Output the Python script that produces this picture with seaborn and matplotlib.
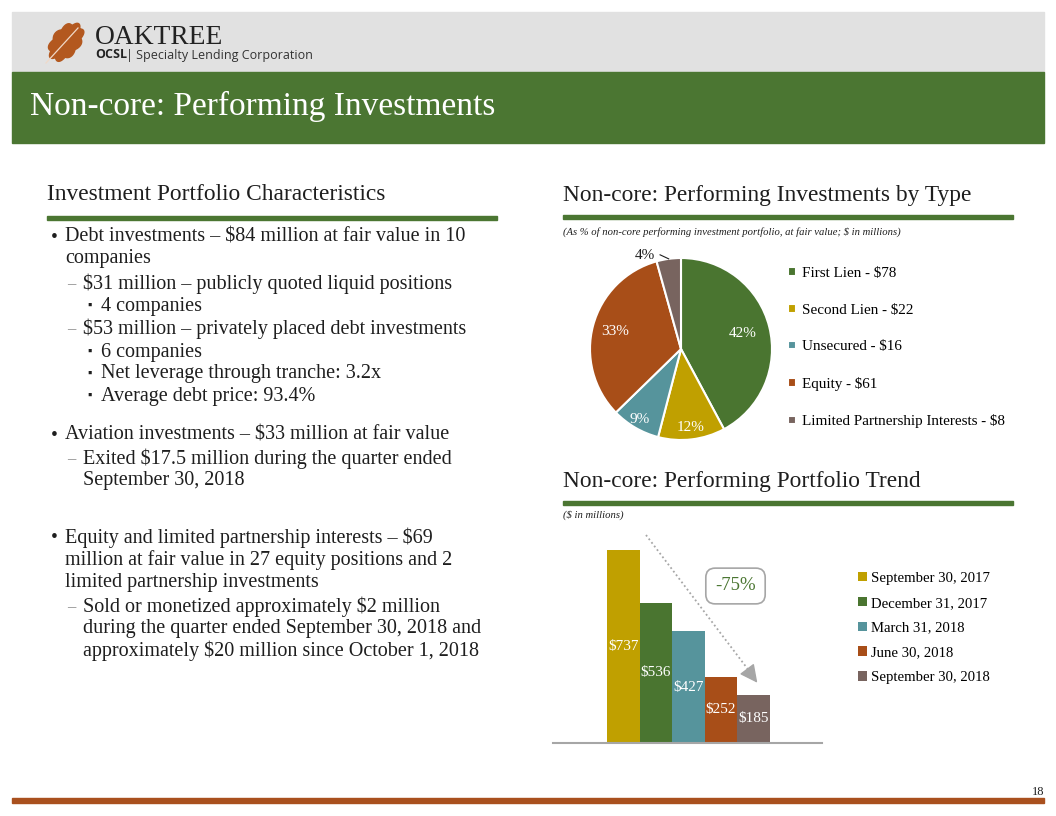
import numpy as np
import pandas as pd
import matplotlib
matplotlib.use("Agg")
import matplotlib.pyplot as plt
from matplotlib.patches import Rectangle, Polygon
from matplotlib.lines import Line2D
import seaborn as sns

# pie: non-core performing investments by type ($ in millions)
pie_types = ["First Lien", "Second Lien", "Unsecured", "Equity", "Limited Partnership Interests"]
pie_values = [78, 22, 16, 61, 8]
pie_colors = ["#4A7530", "#C0A000", "#56949C", "#A84E18", "#78645F"]

# bars: performing portfolio trend ($ in millions)
periods = ["September 30, 2017", "December 31, 2017", "March 31, 2018",
           "June 30, 2018", "September 30, 2018"]
portfolio = [737, 536, 427, 252, 185]
bar_colors = ["#C0A000", "#4A7530", "#56949C", "#A84E18", "#78645F"]
change_label = "-75%"

# left column text: (y pixel, level, starts with marker, text)
bullets = [
    (237, 0, True, "Debt investments – $84 million at fair value in 10"),
    (259, 0, False, "companies"),
    (284, 1, True, "$31 million – publicly quoted liquid positions"),
    (306, 2, True, "4 companies"),
    (329, 1, True, "$53 million – privately placed debt investments"),
    (352, 2, True, "6 companies"),
    (374, 2, True, "Net leverage through tranche: 3.2x"),
    (396, 2, True, "Average debt price: 93.4%"),
    (435, 0, True, "Aviation investments – $33 million at fair value"),
    (459, 1, True, "Exited $17.5 million during the quarter ended"),
    (481, 1, False, "September 30, 2018"),
    (538, 0, True, "Equity and limited partnership interests – $69"),
    (560, 0, False, "million at fair value in 27 equity positions and 2"),
    (582, 0, False, "limited partnership investments"),
    (607, 1, True, "Sold or monetized approximately $2 million"),
    (629, 1, False, "during the quarter ended September 30, 2018 and"),
    (651, 1, False, "approximately $20 million since October 1, 2018"),
]

GREEN = "#4B7632"
ORANGE = "#A9501E"
TEXT = "#1E1E1E"

plt.rcParams["font.family"] = ["Liberation Serif", "DejaVu Sans"]

W, H = 1056, 816
fig = plt.figure(figsize=(W / 100, H / 100), dpi=100)


def fx(x):
    return x / W


def fy(y):
    return 1 - y / H


def band(x0, y0, x1, y1, color):
    fig.patches.append(Rectangle((fx(x0), fy(y1)), (x1 - x0) / W, (y1 - y0) / H,
                                 transform=fig.transFigure, color=color, zorder=0))


# header
band(12, 12, 1044, 72, "#E1E1E1")
band(12, 72, 1044, 143, GREEN)
fig.text(fx(30), fy(106), "Non-core: Performing Investments", color="white",
         fontsize=24, va="center")

# logo leaf (lobed oak-like outline)
t = np.linspace(0, 2 * np.pi, 300)
r = 1 + 0.18 * np.abs(np.sin(4.5 * t))
lx = 0.62 * r * np.cos(t)
ly = r * np.sin(t)
rot = np.deg2rad(-40)
px = 66 + 19 * (lx * np.cos(rot) - ly * np.sin(rot))
py = 42 - 19 * (lx * np.sin(rot) + ly * np.cos(rot))
fig.patches.append(Polygon(np.column_stack([fx(px), fy(py)]), closed=True,
                           transform=fig.transFigure, color="#B3581F", zorder=1))
fig.add_artist(Line2D([fx(46), fx(78)], [fy(63), fy(28)], color="#F0D9C8", lw=0.9,
                      transform=fig.transFigure))
fig.text(fx(95), fy(37), "OAKTREE", fontsize=19.8, color="#222222", va="center")
fig.text(fx(95), fy(55), "OCSL", fontsize=9, family="Open Sans", weight="bold",
         color="#222222", va="center")
fig.text(fx(126), fy(55), "| Specialty Lending Corporation", fontsize=9,
         family="Open Sans", color="#333333", va="center")

# section headers
for x0, y, label in [(47, 195, "Investment Portfolio Characteristics"),
                     (563, 196, "Non-core: Performing Investments by Type"),
                     (563, 481, "Non-core: Performing Portfolio Trend")]:
    fig.text(fx(x0), fy(y), label, fontsize=16.8, color=TEXT, va="center")
band(47, 216, 497, 220, GREEN)
band(563, 215, 1013, 219, GREEN)
band(563, 501, 1013, 505, GREEN)

fig.text(fx(563), fy(232), "(As % of non-core performing investment portfolio, at fair value; $ in millions)",
         fontsize=7.7, style="italic", color=TEXT, va="center")
fig.text(fx(563), fy(515), "($ in millions)", fontsize=7.7, style="italic",
         color=TEXT, va="center")

# bullet text
marker_x = {0: 51, 1: 67, 2: 87}
text_x = {0: 65, 1: 83, 2: 101}
markers = {0: ("•", 14, TEXT), 1: ("–", 12, "#888888"), 2: ("▪", 9, TEXT)}
for y, level, has_marker, label in bullets:
    if has_marker:
        m, size, col = markers[level]
        fig.text(fx(marker_x[level]), fy(y), m, fontsize=size, color=col, va="center")
    fig.text(fx(text_x[level]), fy(y), label, fontsize=14.5, color=TEXT, va="center")

# pie chart
ax_pie = fig.add_axes([fx(590), fy(440), 182 / W, 182 / H])
wedges, _, autotexts = ax_pie.pie(
    pie_values, colors=pie_colors, startangle=90, counterclock=False,
    autopct=lambda p: f"{p:.0f}%", pctdistance=0.7,
    wedgeprops=dict(edgecolor="white", linewidth=1.5),
    textprops=dict(color="white", fontsize=11))
ax_pie.set_xlim(-1, 1)
ax_pie.set_ylim(-1, 1)
label_r = [0.7, 0.87, 0.9, 0.75]
for w, txt, rr in zip(wedges, autotexts, label_r):
    a = np.deg2rad((w.theta1 + w.theta2) / 2)
    txt.set_position((rr * np.cos(a), rr * np.sin(a)))
# small slice label outside with leader line
w = wedges[-1]
a = np.deg2rad((w.theta1 + w.theta2) / 2)
autotexts[-1].set_position((-0.40, 1.03))
autotexts[-1].set_color(TEXT)
ax_pie.plot([-0.23, np.cos(a)], [1.035, np.sin(a)], color=TEXT, lw=0.8, clip_on=False)

ax_pie.legend(wedges, [f"{n} - ${v}" for n, v in zip(pie_types, pie_values)],
              loc="upper left", bbox_to_anchor=(fx(788), fy(267)),
              bbox_transform=fig.transFigure, frameon=False, fontsize=10.9,
              handlelength=0.5, handleheight=0.5, handletextpad=0.4,
              labelspacing=1.56, borderpad=0, borderaxespad=0)

# bar chart
df = pd.DataFrame({"group": [""] * len(periods), "period": periods, "value": portfolio})
ax_bar = fig.add_axes([fx(553), fy(743), (822 - 553) / W, (743 - 530) / H])
sns.barplot(data=df, x="group", y="value", hue="period", hue_order=periods,
            palette=bar_colors, saturation=1, width=0.8, dodge=True, ax=ax_bar)
ax_bar.set_xlim(-0.665, 0.655)
ax_bar.set_ylim(0, 813)
for c in ax_bar.containers:
    ax_bar.bar_label(c, fmt="${:.0f}", label_type="center", color="white", fontsize=11)
for s in ["top", "left", "right"]:
    ax_bar.spines[s].set_visible(False)
ax_bar.spines["bottom"].set_color("#A6A6A6")
ax_bar.spines["bottom"].set_linewidth(1.5)
ax_bar.set_xticks([])
ax_bar.set_yticks([])
ax_bar.set_xlabel("")
ax_bar.set_ylabel("")
ax_bar.set_facecolor("none")

handles, labels = ax_bar.get_legend_handles_labels()
ax_bar.legend(handles, labels, loc="upper left", bbox_to_anchor=(fx(858), fy(572)),
              bbox_transform=fig.transFigure, frameon=False, fontsize=10.6,
              handlelength=0.6, handleheight=0.6, handletextpad=0.3,
              labelspacing=0.8, borderpad=0, borderaxespad=0)

# trend arrow and change box
fig.add_artist(Line2D([fx(646), fx(750)], [fy(535), fy(672)], color="#A6A6A6", lw=1.3,
                      linestyle=(0, (1, 1.5)), transform=fig.transFigure))
fig.add_artist(plt.Annotation("", xy=(fx(759), fy(685)), xytext=(fx(747), fy(669)),
                              xycoords="figure fraction", textcoords="figure fraction",
                              arrowprops=dict(arrowstyle="-|>,head_length=1.1,head_width=0.55",
                                              color="#A6A6A6", lw=1.0)))
fig.text(fx(735.5), fy(586), change_label, ha="center", va="center", color=GREEN, fontsize=13.5,
         bbox=dict(boxstyle="round,pad=0.5,rounding_size=0.5", fc="white", ec="#A6A6A6", lw=1.2))

# footer
band(12, 798, 1044, 803, ORANGE)
fig.text(fx(1044), fy(792), "18", ha="right", va="center", fontsize=9, color=TEXT)

fig.savefig("out.png", dpi=100)
